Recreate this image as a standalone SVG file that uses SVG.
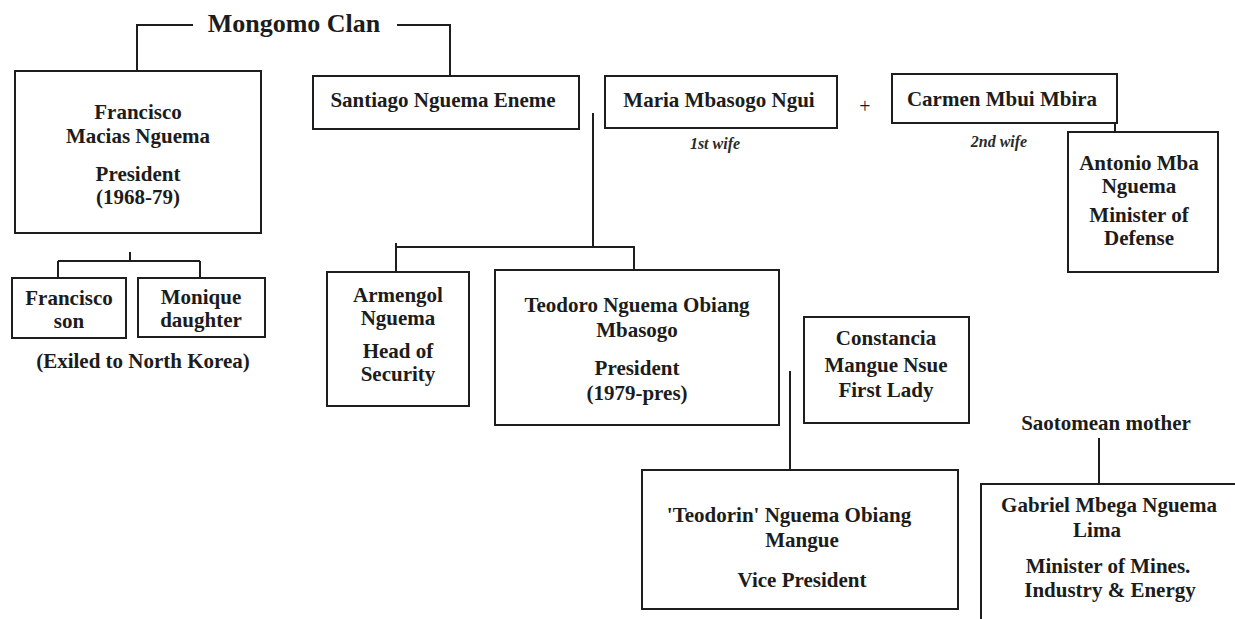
<svg xmlns="http://www.w3.org/2000/svg" width="1235" height="619" viewBox="0 0 1235 619">
<style>
.box{fill:#fff;stroke:#1e1e1e;stroke-width:2}
.ln{fill:none;stroke:#1e1e1e;stroke-width:2}
text{font-family:"Liberation Serif","Times New Roman",serif;font-weight:bold;font-size:21px;fill:#1c1c1c;text-anchor:middle}
.title{font-size:26px}
.it{font-style:italic;font-weight:bold;font-size:16px;fill:#2a2a2a}
.plus{font-weight:normal;font-size:20px}
</style>
<rect width="1235" height="619" fill="#fff"/>
<g id="connectors">
<path class="ln" d="M137 71V25H193M397 25H450V76"/>
<path class="ln" d="M593 113V247M396 243V272M396 247H634V270"/>
<path class="ln" d="M130 252V261M58 261H200M58 261V278M200 261V278"/>
<path class="ln" d="M1115 123V132"/>
<path class="ln" d="M790 371V470"/>
<path class="ln" d="M1099 438V484"/>
</g>
<g id="title"><text class="title" x="294" y="32">Mongomo Clan</text></g>
<g id="francisco-macias">
<rect class="box" x="15" y="71" width="246" height="162"/>
<text x="138" y="119">Francisco</text>
<text x="138" y="143">Macias Nguema</text>
<text x="138" y="181">President</text>
<text x="138" y="204">(1968-79)</text>
</g>
<g id="santiago">
<rect class="box" x="313" y="76" width="266" height="53"/>
<text x="443" y="107">Santiago Nguema Eneme</text>
</g>
<g id="maria">
<rect class="box" x="605" y="76" width="232" height="52"/>
<text x="719" y="107">Maria Mbasogo Ngui</text>
<text class="it" x="715" y="149">1st wife</text>
</g>
<g id="plus"><text class="plus" x="865" y="113">+</text></g>
<g id="carmen">
<rect class="box" x="892" y="74" width="225" height="49"/>
<text x="1002" y="106">Carmen Mbui Mbira</text>
<text class="it" x="999" y="147">2nd wife</text>
</g>
<g id="antonio">
<rect class="box" x="1068" y="132" width="150" height="140"/>
<text x="1139" y="170">Antonio Mba</text>
<text x="1139" y="193">Nguema</text>
<text x="1139" y="222">Minister of</text>
<text x="1139" y="245">Defense</text>
</g>
<g id="francisco-son">
<rect class="box" x="12" y="278" width="114" height="60"/>
<text x="69" y="305">Francisco</text>
<text x="69" y="328">son</text>
</g>
<g id="monique">
<rect class="box" x="138" y="278" width="127" height="59"/>
<text x="201" y="304">Monique</text>
<text x="201" y="327">daughter</text>
</g>
<g id="exiled"><text x="143" y="368">(Exiled to North Korea)</text></g>
<g id="armengol">
<rect class="box" x="327" y="272" width="142" height="134"/>
<text x="398" y="302">Armengol</text>
<text x="398" y="325">Nguema</text>
<text x="398" y="358">Head of</text>
<text x="398" y="381">Security</text>
</g>
<g id="teodoro">
<rect class="box" x="495" y="270" width="284" height="155"/>
<text x="637" y="312">Teodoro Nguema Obiang</text>
<text x="637" y="337">Mbasogo</text>
<text x="637" y="375">President</text>
<text x="637" y="400">(1979-pres)</text>
</g>
<g id="constancia">
<rect class="box" x="804" y="317" width="165" height="106"/>
<text x="886" y="345">Constancia</text>
<text x="886" y="372">Mangue Nsue</text>
<text x="886" y="397">First Lady</text>
</g>
<g id="teodorin">
<rect class="box" x="642" y="470" width="316" height="139"/>
<text x="789" y="522">'Teodorin' Nguema Obiang</text>
<text x="802" y="547">Mangue</text>
<text x="802" y="587">Vice President</text>
</g>
<g id="saotomean"><text x="1106" y="430">Saotomean mother</text></g>
<g id="gabriel">
<rect class="box" x="981" y="484" width="270" height="150"/>
<text x="1109" y="512">Gabriel Mbega Nguema</text>
<text x="1097" y="537">Lima</text>
<text x="1108" y="573">Minister of Mines.</text>
<text x="1110" y="597">Industry &amp; Energy</text>
</g>
</svg>
